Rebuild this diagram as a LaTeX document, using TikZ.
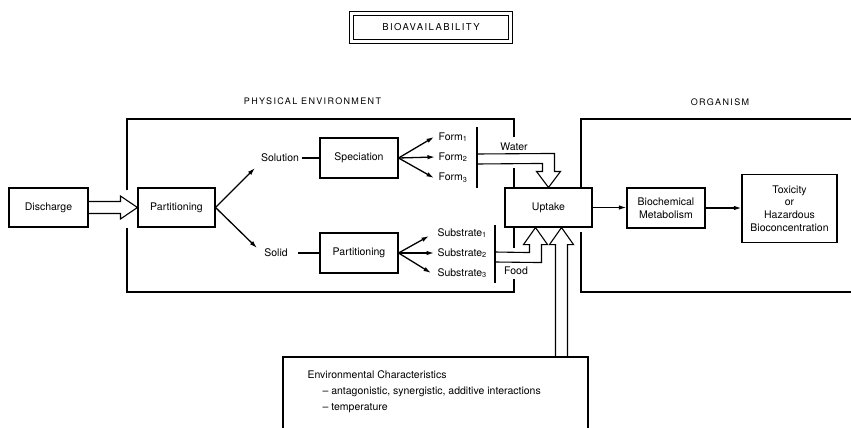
\documentclass[tikz,border=0pt]{standalone}
\usepackage{fontspec}
\setmainfont{TeX Gyre Heros}
\newfontfamily\capsfont[LetterSpace=15]{TeX Gyre Heros}
\usetikzlibrary{arrows.meta,calc}
\begin{document}
\begin{tikzpicture}[x=1pt,y=-1pt,line width=1.1pt,
  box/.style={draw,line width=1.1pt,inner sep=0pt,align=center,font=\fontsize{10.5}{12.5}\selectfont},
  lbl/.style={inner sep=0pt,font=\fontsize{10.5}{12.5}\selectfont},
  caps/.style={inner sep=0pt,font=\capsfont\fontsize{9}{11}\selectfont},
  arr/.style={-{Latex[length=7.5pt,width=4.5pt]},line width=1.3pt},
  hollow/.style={line width=1.1pt,line join=miter},
  frame/.style={line width=1.3pt}]
\useasboundingbox (0,0) rectangle (851,428);

% title
\node[draw,double,double distance=2.5pt,line width=0.9pt,inner sep=0pt,
  minimum width=159pt,minimum height=28pt,font=\capsfont\fontsize{9.5}{11}\selectfont]
  (title) at (431,27.5) {BIOAVAILABILITY};

\node[caps] (physlbl) at (312.5,101) {PHYSICAL ENVIRONMENT};
\node[caps] (orglbl) at (720,102) {ORGANISM};

% nodes
\node[box,minimum width=79pt,minimum height=39pt] (discharge) at (48.5,207.5) {Discharge};
\node[box,minimum width=77pt,minimum height=39pt] (part1) at (176.5,207.5) {Partitioning};
\node[lbl] (solution) at (280,158) {Solution};
\node[lbl] (solid) at (276,253) {Solid};
\node[box,minimum width=78pt,minimum height=40pt] (spec) at (359,158) {Speciation};
\node[box,minimum width=78pt,minimum height=40pt] (part2) at (359,253) {Partitioning};
\node[lbl,anchor=west] (form1) at (438,137) {Form\textsubscript{1}};
\node[lbl,anchor=west] (form2) at (438,157) {Form\textsubscript{2}};
\node[lbl,anchor=west] (form3) at (438,178) {Form\textsubscript{3}};
\node[lbl,anchor=west] (sub1) at (437,233) {Substrate\textsubscript{1}};
\node[lbl,anchor=west] (sub2) at (437,253) {Substrate\textsubscript{2}};
\node[lbl,anchor=west] (sub3) at (437,273) {Substrate\textsubscript{3}};
\node[lbl] (water) at (514,147) {Water};
\node[lbl] (food) at (516,271) {Food};
\node[box,minimum width=87pt,minimum height=39pt] (uptake) at (548.5,207.5) {Uptake};
\node[box,minimum width=78pt,minimum height=40pt] (biochem) at (666,208) {Biochemical\\Metabolism};
\node[box,minimum width=95pt,minimum height=68pt] (tox) at (789.5,208.5) {Toxicity\\or\\Hazardous\\Bioconcentration};

\node[lbl,anchor=west] (env1) at (307,375) {Environmental Characteristics};
\node[lbl,anchor=west] (env2) at (322,392) {-- antagonistic, synergistic, additive interactions};
\node[lbl,anchor=west] (env3) at (322,408) {-- temperature};

% coordinates
\coordinate (soltip) at (255,168);
\coordinate (soldtip) at (257,248);
\coordinate (f1tip) at (434,137);
\coordinate (f2tip) at (435,157);
\coordinate (f3tip) at (434,178);
\coordinate (s1tip) at (429,236);
\coordinate (s2tip) at (434,253);
\coordinate (s3tip) at (431,273);
\coordinate (bar1a) at (477,127);
\coordinate (bar1b) at (477,188);
\coordinate (bar2a) at (495,225);
\coordinate (bar2b) at (495,283);

% physical environment frame
\draw[frame] (127,190) -- (127,119) -- (514,119) -- (514,137);
\draw[frame] (514,168) -- (uptake.north -| 514,0);
\draw[frame] (uptake.south -| 514,0) -- (514,248);
\draw[frame] (514,279) -- (514,292) -- (127,292) -- (127,228);
% organism frame
\draw[frame] (851,119) -- (581,119) -- (uptake.north -| 581,0);
\draw[frame] (581,232) -- (581,292) -- (851,292);
% environment box
\draw[frame] (283,428) -- (283,357) -- (588,357) -- (588,428);

% bars
\draw[frame] (bar1a) -- (bar1b);
\draw[frame] (bar2a) -- (bar2b);

% simple connectors
\draw[arr] (part1.east) -- (soltip);
\draw[arr] (part1.east) -- (soldtip);
\draw (solution.east) ++(2,0) -- (spec.west);
\draw (solid.east) ++(10,0) -- (part2.west);
\draw[arr] (spec.east) -- (f1tip);
\draw[arr] (spec.east) -- (f2tip);
\draw[arr] (spec.east) -- (f3tip);
\draw[arr] (part2.east) -- (s1tip);
\draw[arr] (part2.east) -- (s2tip);
\draw[arr] (part2.east) -- (s3tip);
\draw[arr] (uptake.east) -- (uptake.east -| biochem.west);
\draw[arr] (biochem.east) -- (biochem.east -| tox.west);

% hollow arrows
\draw[hollow] ($(discharge.east)+(0,-6)$) -- ($(part1.west)+(-17,-6)$) -- ($(part1.west)+(-17,-11.5)$)
  -- (part1.west) -- ($(part1.west)+(-17,11.5)$) -- ($(part1.west)+(-17,6)$) -- ($(discharge.east)+(0,6)$);
% water
\draw[hollow] (477,164) -- ($(uptake.north)+(-6,-24)$) -- ($(uptake.north)+(-6,-16)$) -- ($(uptake.north)+(-12,-16)$)
  -- (uptake.north) -- ($(uptake.north)+(12,-16)$) -- ($(uptake.north)+(6,-16)$) -- ($(uptake.north)+(6,-34)$) -- (477,154);
% food
\coordinate (foodtip) at ($(uptake.south)+(-13,0)$);
\draw[hollow] (495,252) -- ($(foodtip)+(-6,25)$) -- ($(foodtip)+(-6,17)$) -- ($(foodtip)+(-12,17)$)
  -- (foodtip) -- ($(foodtip)+(12,17)$) -- ($(foodtip)+(6,17)$) -- ($(foodtip)+(6,35)$) -- (495,262);
% environment
\coordinate (envtip) at ($(uptake.south)+(13,0)$);
\draw[hollow] ($(envtip)+(-6,130)$) -- ($(envtip)+(-6,17)$) -- ($(envtip)+(-12,17)$)
  -- (envtip) -- ($(envtip)+(12,17)$) -- ($(envtip)+(6,17)$) -- ($(envtip)+(6,130)$);
\end{tikzpicture}
\end{document}
